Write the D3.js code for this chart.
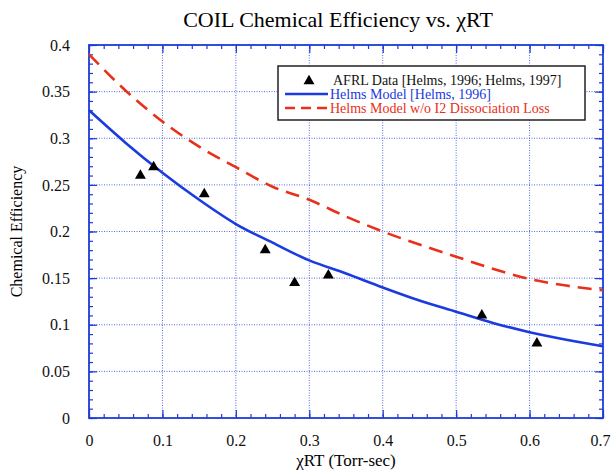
<!DOCTYPE html>
<html>
<head>
<meta charset="utf-8">
<script src="https://cdn.jsdelivr.net/npm/d3@7"></script>
<style>
  body { margin: 0; background: #fff; }
  text { font-family: "Liberation Serif", "Times New Roman", serif; }
</style>
</head>
<body>
<div id="chart"></div>
<script>
// AFRL measured points
var obsX = [0.07, 0.088, 0.157, 0.24, 0.28, 0.326, 0.535, 0.61];
var obsY = [0.26, 0.269, 0.24, 0.18, 0.145, 0.153, 0.11, 0.08];

// model curves, sampled every 0.05
var modelX  = [0, 0.05, 0.1, 0.15, 0.2, 0.25, 0.3, 0.35, 0.4, 0.45, 0.5, 0.55, 0.6, 0.65, 0.7];
var helmsY  = [0.33, 0.295, 0.263, 0.234, 0.208, 0.188, 0.169, 0.155, 0.14, 0.126, 0.114, 0.102, 0.092, 0.084, 0.077];
var noLossY = [0.39, 0.351, 0.318, 0.291, 0.269, 0.248, 0.234, 0.216, 0.2, 0.186, 0.173, 0.16, 0.149, 0.142, 0.137];

var xTicks = [0, 0.1, 0.2, 0.3, 0.4, 0.5, 0.6, 0.7];
var yTicks = [0, 0.05, 0.1, 0.15, 0.2, 0.25, 0.3, 0.35, 0.4];

var legendLabels = ["AFRL Data [Helms, 1996; Helms, 1997]",
                    "Helms Model [Helms, 1996]",
                    "Helms Model w/o I2 Dissociation Loss"];

var width = 611, height = 471;
var margin = {top: 45, right: 8, bottom: 53, left: 89};
var w = width - margin.left - margin.right;
var h = height - margin.top - margin.bottom;

var blue = "#1a3be0", red = "#e8301a", axisBlue = "#1c3bd8";

var svg = d3.select("#chart").append("svg")
  .attr("width", width)
  .attr("height", height);

var g = svg.append("g")
  .attr("transform", "translate(" + margin.left + "," + margin.top + ")");

var x = d3.scaleLinear().domain([0, 0.7]).range([0, w]);
var y = d3.scaleLinear().domain([0, 0.4]).range([h, 0]);

// grid
g.append("g").selectAll("line")
  .data(xTicks.slice(1, -1))
  .enter().append("line")
  .attr("x1", function(d) { return x(d); })
  .attr("x2", function(d) { return x(d); })
  .attr("y1", 0).attr("y2", h)
  .attr("stroke", axisBlue).attr("stroke-width", 1)
  .attr("stroke-dasharray", "1,1.5").attr("opacity", 0.75);

g.append("g").selectAll("line")
  .data(yTicks.slice(1, -1))
  .enter().append("line")
  .attr("y1", function(d) { return y(d); })
  .attr("y2", function(d) { return y(d); })
  .attr("x1", 0).attr("x2", w)
  .attr("stroke", axisBlue).attr("stroke-width", 1)
  .attr("stroke-dasharray", "1,1.5").attr("opacity", 0.75);

// minor ticks (inside, all four sides)
var xMinor = d3.range(0, 0.7001, 0.02);
var yMinor = d3.range(0, 0.4001, 0.01);

function styleAxis(sel) {
  sel.select(".domain").remove();
  sel.selectAll("line").attr("stroke", axisBlue).attr("stroke-width", 1.2);
}

g.append("g").attr("transform", "translate(0," + h + ")")
  .call(d3.axisBottom(x).tickValues(xMinor).tickSize(-4).tickFormat(""))
  .call(styleAxis);
g.append("g")
  .call(d3.axisTop(x).tickValues(xMinor).tickSize(-4).tickFormat(""))
  .call(styleAxis);
g.append("g")
  .call(d3.axisLeft(y).tickValues(yMinor).tickSize(-4).tickFormat(""))
  .call(styleAxis);
g.append("g").attr("transform", "translate(" + w + ",0)")
  .call(d3.axisRight(y).tickValues(yMinor).tickSize(-4).tickFormat(""))
  .call(styleAxis);

// major ticks with labels
var xAxis = g.append("g").attr("transform", "translate(0," + h + ")")
  .call(d3.axisBottom(x).tickValues(xTicks).tickSize(-8).tickPadding(17)
    .tickFormat(function(d) { return d3.format("~g")(d); }))
  .call(styleAxis);
xAxis.selectAll("text").attr("fill", "#111").style("font-size", "16px")
  .style("font-family", "Liberation Serif");
// last label sits against the window edge
xAxis.selectAll("text").filter(function(d) { return d === 0.7; })
  .attr("dx", "-3");

g.append("g").attr("transform", "translate(" + w + ",0)")
  .call(d3.axisRight(y).tickValues(yTicks).tickSize(-8).tickFormat(""))
  .call(styleAxis);
g.append("g")
  .call(d3.axisTop(x).tickValues(xTicks).tickSize(-8).tickFormat(""))
  .call(styleAxis);

var yAxis = g.append("g")
  .call(d3.axisLeft(y).tickValues(yTicks).tickSize(-8).tickPadding(19)
    .tickFormat(function(d) { return d3.format("~g")(d); }))
  .call(styleAxis);
yAxis.selectAll("text").attr("fill", "#111").style("font-size", "16px")
  .style("font-family", "Liberation Serif");

// frame
g.append("rect")
  .attr("width", w).attr("height", h)
  .attr("fill", "none").attr("stroke", axisBlue).attr("stroke-width", 1.8);

// curves
var line = d3.line()
  .x(function(d) { return x(d[0]); })
  .y(function(d) { return y(d[1]); })
  .curve(d3.curveMonotoneX);

g.append("path")
  .datum(d3.zip(modelX, noLossY))
  .attr("d", line)
  .attr("fill", "none").attr("stroke", red).attr("stroke-width", 2.6)
  .attr("stroke-dasharray", "14,8");

g.append("path")
  .datum(d3.zip(modelX, helmsY))
  .attr("d", line)
  .attr("fill", "none").attr("stroke", blue).attr("stroke-width", 2.6);

// data points
var tri = d3.symbol().type(d3.symbolTriangle).size(52);
g.selectAll(".pt")
  .data(d3.zip(obsX, obsY))
  .enter().append("path")
  .attr("class", "pt")
  .attr("d", tri)
  .attr("transform", function(d) { return "translate(" + x(d[0]) + "," + y(d[1]) + ")"; })
  .attr("fill", "#000");

// legend
var lg = svg.append("g").attr("transform", "translate(278,66)");
lg.append("rect")
  .attr("width", 307).attr("height", 54)
  .attr("fill", "#fff").attr("stroke", "#222").attr("stroke-width", 1.5);

lg.append("path").attr("d", tri)
  .attr("transform", "translate(31,15)").attr("fill", "#000");
lg.append("line").attr("x1", 7).attr("x2", 50).attr("y1", 28).attr("y2", 28)
  .attr("stroke", blue).attr("stroke-width", 2.6);
lg.append("line").attr("x1", 7).attr("x2", 50).attr("y1", 42).attr("y2", 42)
  .attr("stroke", red).attr("stroke-width", 2.6).attr("stroke-dasharray", "10,6");

var legendColors = ["#111", blue, red];
var legendX = [55, 52, 52];
lg.selectAll(".lt")
  .data(legendLabels)
  .enter().append("text")
  .attr("x", function(d, i) { return legendX[i]; })
  .attr("y", function(d, i) { return 19 + i * 14; })
  .attr("fill", function(d, i) { return legendColors[i]; })
  .style("font-size", "14px")
  .text(function(d) { return d; });

// titles
svg.append("text")
  .attr("x", 338).attr("y", 27)
  .attr("text-anchor", "middle")
  .style("font-size", "22px")
  .text("COIL Chemical Efficiency vs. \u03C7RT");

svg.append("text")
  .attr("x", margin.left + w / 2).attr("y", 466)
  .attr("text-anchor", "middle")
  .style("font-size", "17px")
  .text("\u03C7RT (Torr-sec)");

svg.append("text")
  .attr("transform", "translate(22," + (margin.top + h / 2) + ") rotate(-90)")
  .attr("text-anchor", "middle")
  .style("font-size", "16px")
  .text("Chemical Efficiency");
</script>
</body>
</html>
